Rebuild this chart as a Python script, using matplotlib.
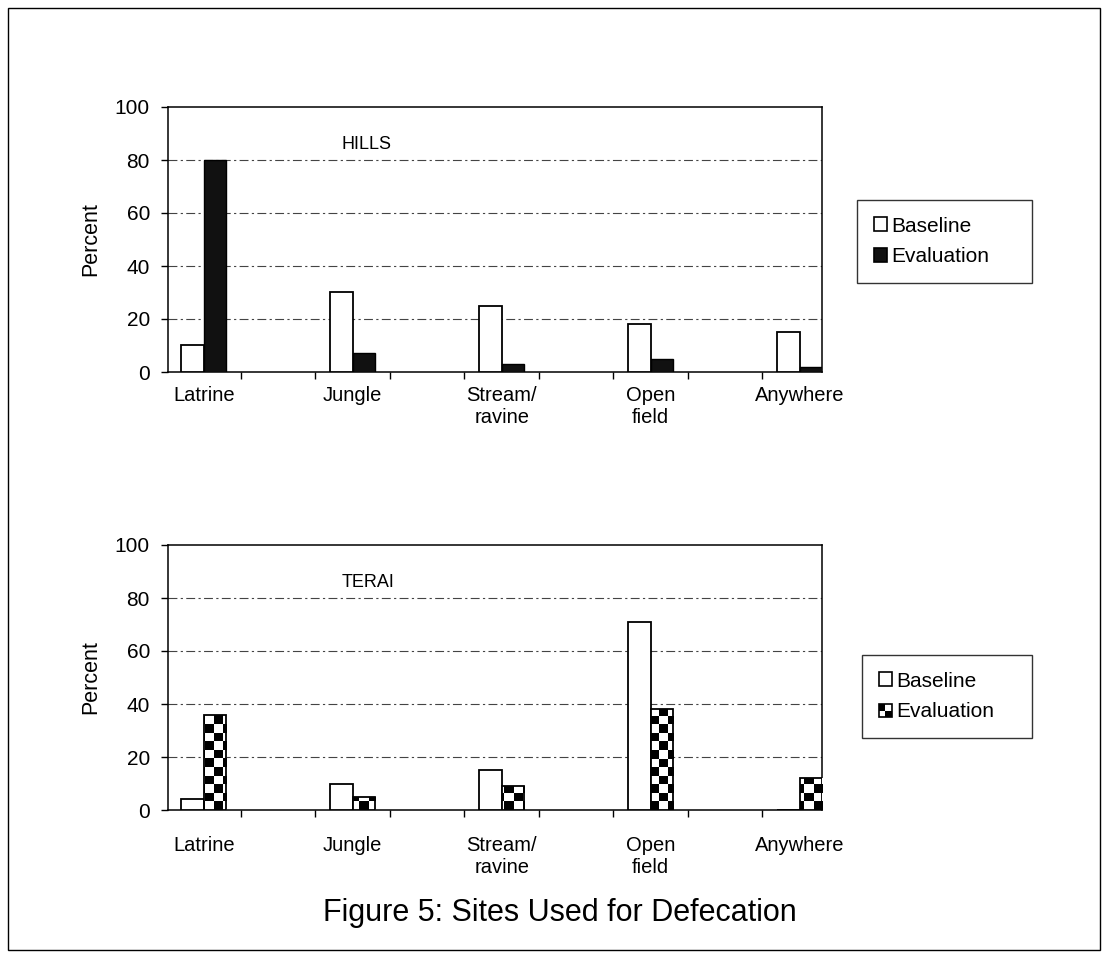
import numpy as np
import matplotlib
matplotlib.use("Agg")
import matplotlib.pyplot as plt
from matplotlib.patches import Patch, Rectangle

plt.rcParams['font.family'] = ['Liberation Sans', 'DejaVu Sans']

categories = ['Latrine', 'Jungle', 'Stream/\nravine', 'Open\nfield', 'Anywhere']
hills_baseline = [10, 30, 25, 18, 15]
hills_evaluation = [80, 7, 3, 5, 2]
terai_baseline = [4, 10, 15, 71, 0]
terai_evaluation = [36, 5, 9, 38, 12]
series_names = ['Baseline', 'Evaluation']
yticks = [0, 20, 40, 60, 80, 100]

W, H = 1107, 955
fig = plt.figure(figsize=(W / 100, H / 100), dpi=100)

# axes boxes in pixels (left, top, right, bottom)
boxes = {'top': (168, 107, 822, 372), 'bot': (168, 545, 822, 810)}


def make_axes(box):
    l, t, r, b = box
    return fig.add_axes([l / W, 1 - b / H, (r - l) / W, (b - t) / H])


class CheckerHandler:
    # small 2x2 checker icon for the legend
    def legend_artist(self, legend, orig_handle, fontsize, handlebox):
        x0, y0 = handlebox.xdescent, handlebox.ydescent
        w, h = handlebox.width, handlebox.height
        box = Rectangle((x0, y0), w, h, facecolor='white', edgecolor='black',
                        lw=1.2, transform=handlebox.get_transform())
        handlebox.add_artist(box)
        for (i, j) in [(0, 1), (1, 0)]:
            sq = Rectangle((x0 + i * w / 2, y0 + j * h / 2), w / 2, h / 2,
                           facecolor='black', edgecolor='none',
                           transform=handlebox.get_transform())
            handlebox.add_artist(sq)
        return box


def draw_panel(ax, box, base, evalv, label, checker, xpad):
    x = np.arange(len(categories))
    w = 0.15
    ax.set_xlim(-0.24, 4.15)
    ax.set_ylim(0, 100)
    for g in [20, 40, 60, 80]:
        ax.axhline(g, color='#444444', lw=0.8, ls=(0, (8, 3, 2, 3)), zorder=1)
    ax.bar(x - w / 2, base, w, color='white', edgecolor='black', lw=1.3, zorder=3)
    if checker:
        bars = ax.bar(x + w / 2, evalv, w, color='white', edgecolor='none', zorder=3)
        l, t, r, b = box
        nx, ny = int((r - l) / 9), int((b - t) / 8.5)
        pattern = np.indices((ny, nx)).sum(axis=0) % 2
        for bar in bars:
            im = ax.imshow(pattern, cmap='binary', extent=[0, 1, 0, 1],
                           transform=ax.transAxes, interpolation='nearest',
                           aspect='auto', zorder=3.5)
            im.set_clip_path(bar)
        ax.bar(x + w / 2, evalv, w, color='none', edgecolor='black', lw=1.3, zorder=4)
    else:
        ax.bar(x + w / 2, evalv, w, color='#111111', edgecolor='black', lw=1.0, zorder=3)
    ax.set_xlim(-0.24, 4.15)
    ax.set_ylim(0, 100)
    ax.set_yticks(yticks)
    ax.tick_params(axis='y', labelsize=15, length=5, pad=8, width=1)
    ax.set_xticks(x, categories)
    ax.set_xticks(np.arange(0.25, 4.0, 0.5), minor=True)
    ax.tick_params(axis='x', which='major', length=0, labelsize=14.5, pad=xpad)
    ax.tick_params(axis='x', which='minor', length=5, width=1)
    ax.set_ylabel('Percent', fontsize=15.5, labelpad=10)
    for s in ax.spines.values():
        s.set_linewidth(1.1)
    ax.text(0.265, 0.86, label, transform=ax.transAxes, fontsize=13, va='center')


ax1 = make_axes(boxes['top'])
draw_panel(ax1, boxes['top'], hills_baseline, hills_evaluation, 'HILLS', False, 10)
ax2 = make_axes(boxes['bot'])
draw_panel(ax2, boxes['bot'], terai_baseline, terai_evaluation, 'TERAI', True, 19)

base_h = Patch(facecolor='white', edgecolor='black', lw=1.2)
eval_h1 = Patch(facecolor='#111111', edgecolor='black', lw=1.2)
eval_h2 = Patch(facecolor='white', edgecolor='black')

leg_kw = dict(loc='upper left', fontsize=15, frameon=True, fancybox=False,
              edgecolor='black', handlelength=0.65, handleheight=0.65,
              handletextpad=0.2, borderpad=0.8, labelspacing=0.55,
              borderaxespad=0, mode='expand')
lg1 = fig.legend([base_h, eval_h1], series_names,
                 bbox_to_anchor=(857 / W, 1 - 285 / H, 175 / W, 85 / H), **leg_kw)
lg1.get_frame().set_linewidth(1)
lg2 = fig.legend([base_h, eval_h2], series_names,
                 bbox_to_anchor=(862 / W, 1 - 735 / H, 170 / W, 80 / H),
                 handler_map={eval_h2: CheckerHandler()}, **leg_kw)
lg2.get_frame().set_linewidth(1)

fig.text(560 / W, 1 - 913 / H, 'Figure 5: Sites Used for Defecation',
         ha='center', va='center', fontsize=22)

# outer frame of the page figure
fig.add_artist(Rectangle((8 / W, 1 - 950 / H), (1100 - 8) / W, (950 - 8) / H,
                         transform=fig.transFigure, fill=False,
                         edgecolor='black', lw=1))

fig.savefig('out.png', dpi=100, facecolor='white')
